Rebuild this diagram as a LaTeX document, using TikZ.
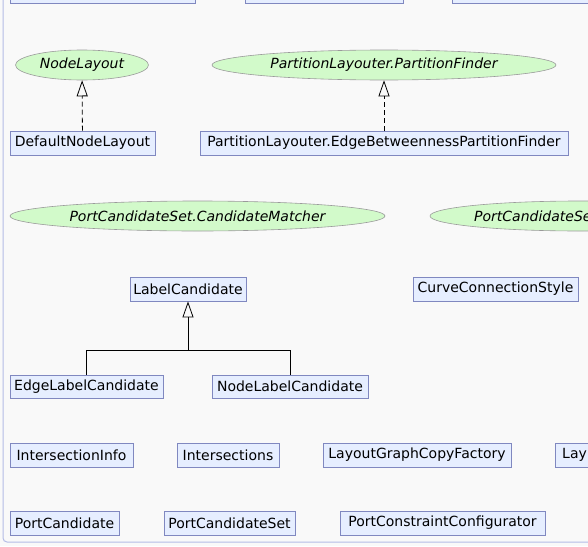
\documentclass[tikz,border=0pt]{standalone}
\usepackage{fontspec}
\setmainfont{DejaVu Sans}
\usetikzlibrary{shapes.geometric,arrows.meta}
\begin{document}
\begin{tikzpicture}[x=1pt,y=-1pt,font=\fontsize{14}{16}\selectfont,
  classbox/.style={draw=boxline,fill=boxfill,line width=0.8pt,inner sep=0pt,minimum height=24pt},
  ifaceell/.style={ellipse,draw=ellline,fill=ellfill,line width=0.6pt,inner sep=0pt,minimum height=30pt,font=\fontsize{14}{16}\selectfont\itshape},
  realize/.style={dashed,dash pattern=on 5pt off 3pt,line width=0.8pt,-{Triangle[open,width=11pt,length=16pt]}},
  inherit/.style={line width=0.8pt,-{Triangle[open,width=11pt,length=16pt]}}]
\definecolor{boxfill}{HTML}{E6EEFF}
\definecolor{boxline}{HTML}{8088C0}
\definecolor{ellfill}{HTML}{D2FACA}
\definecolor{ellline}{HTML}{9A9A9A}
\definecolor{pagefill}{HTML}{F9F9F9}
\definecolor{frameline}{HTML}{B4BCE6}
\useasboundingbox (0,0) rectangle (588,546);
\fill[pagefill] (0,0) rectangle (588,546);
\clip (0,0) rectangle (588,546);
\draw[frameline,line width=1pt,rounded corners=4pt] (3,-10) -- (3,542) -- (600,542);
% first row, cut at the top edge
\node[classbox,minimum width=185pt] (topa) at (102.5,-9) {};
\node[classbox,minimum width=158pt] (topb) at (324,-9) {};
\node[classbox,minimum width=168pt] (topc) at (536,-9) {};
% interfaces and their implementations
\node[ifaceell,minimum width=133pt] (nodelayout) at (82,65) {NodeLayout};
\node[ifaceell,minimum width=344pt] (partfinder) at (384,65) {PartitionLayouter.PartitionFinder};
\node[classbox,minimum width=145pt] (defnodelayout) at (82.5,143) {DefaultNodeLayout};
\node[classbox,minimum width=368pt] (ebpfinder) at (384,143) {PartitionLayouter.EdgeBetweennessPartitionFinder};
\draw[realize] (defnodelayout) -- (nodelayout);
\draw[realize] (ebpfinder) -- (partfinder);
\node[ifaceell,minimum width=375pt] (candmatcher) at (197.5,216) {PortCandidateSet.CandidateMatcher};
\node[ifaceell,minimum width=300pt] (pcsentry) at (580,216) {};
\node[anchor=west,inner sep=0pt,font=\fontsize{14}{16}\selectfont\itshape] (pcsentrytext) at (474,216) {PortCandidateSe};
% label candidates
\node[classbox,minimum width=116pt] (labelcand) at (188,289) {LabelCandidate};
\node[classbox,minimum width=165pt] (curveconn) at (495.5,289) {CurveConnectionStyle};
\node[classbox,minimum width=153pt,minimum height=23pt] (edgelabelcand) at (86.5,386.5) {EdgeLabelCandidate};
\node[classbox,minimum width=156pt,minimum height=23pt] (nodelabelcand) at (290,386.5) {NodeLabelCandidate};
\coordinate (split) at (188,350);
\draw[inherit] (edgelabelcand.north) |- (split) -- (labelcand.south);
\draw[line width=0.8pt] (nodelabelcand.north) |- (split);
% remaining classes
\node[classbox,minimum width=123pt] (intinfo) at (71.5,455) {IntersectionInfo};
\node[classbox,minimum width=102pt] (intersections) at (228,455) {Intersections};
\node[classbox,minimum width=188pt] (copyfactory) at (417,455) {LayoutGraphCopyFactory};
\node[classbox,minimum width=85pt] (laybox) at (597.5,455) {};
\node[anchor=west,inner sep=0pt] (laytext) at (562,455) {Lay};
\node[classbox,minimum width=109pt] (portcand) at (64.5,523) {PortCandidate};
\node[classbox,minimum width=131pt] (portcandset) at (229.5,523) {PortCandidateSet};
\node[classbox,minimum width=205pt] (constrconf) at (442.5,523) {PortConstraintConfigurator};
\end{tikzpicture}
\end{document}
